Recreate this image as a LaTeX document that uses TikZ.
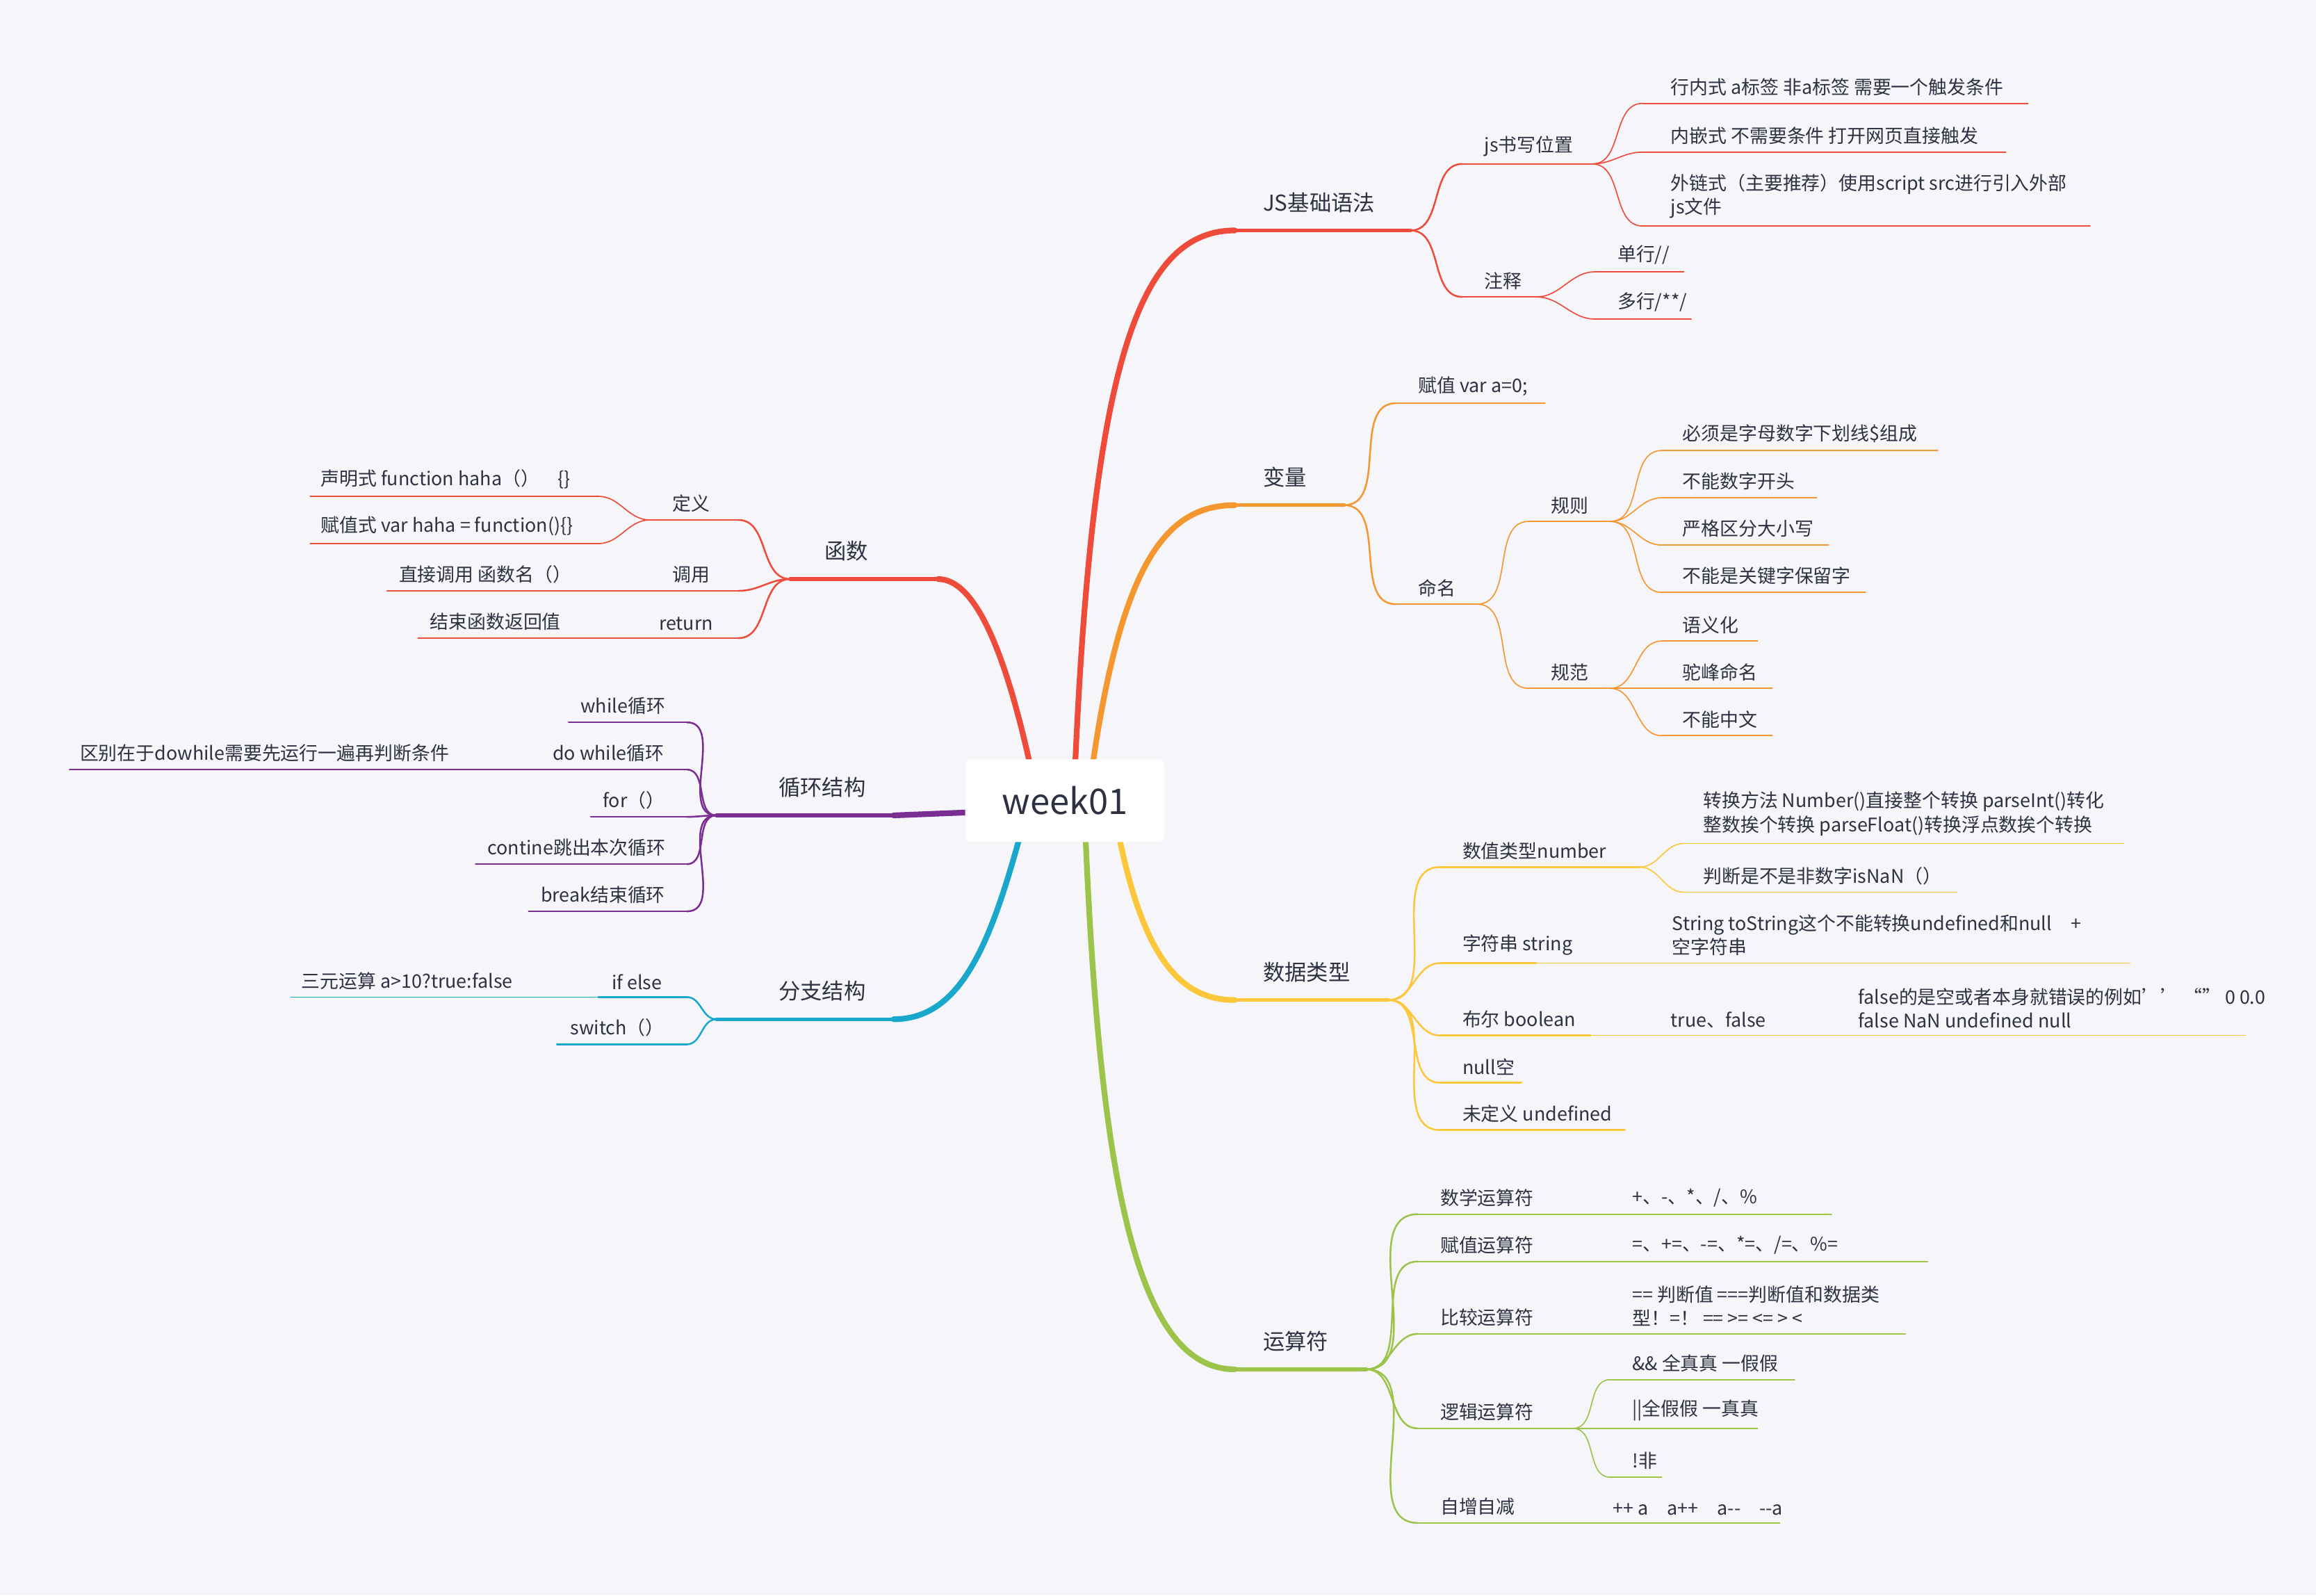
\documentclass[tikz,border=0pt]{standalone}
\usepackage{fontspec}
\setmainfont{Noto Sans CJK SC}
\definecolor{bg}{HTML}{F5F5FA}
\definecolor{txt}{HTML}{2D3142}
\definecolor{cred}{HTML}{EE4B3B}
\definecolor{corg}{HTML}{F5972F}
\definecolor{cyel}{HTML}{FCC73A}
\definecolor{cgrn}{HTML}{9DC44A}
\definecolor{cpur}{HTML}{7A2E92}
\definecolor{ccya}{HTML}{19A8CB}
\tikzset{
  lbl/.style={anchor=south west, inner sep=0pt, text=txt, align=left,
    font=\fontsize{18}{23}\selectfont},
  lone/.style={line width=3.6pt, line cap=round},
  ltwo/.style={line width=1.7pt, line cap=round},
  lthr/.style={line width=1.1pt, line cap=round},
  trunk/.style={line width=5.5pt, line cap=round},
}
% #1 line style, #2 name, #3 x start, #4 x end, #5 y, #6 text x, #7 text
\newcommand\br[7]{%
  \coordinate (#2-l) at (#3,#5);
  \coordinate (#2-r) at (#4,#5);
  \draw[#1] (#2-l) -- (#2-r);
  \node[lbl] (#2) at (#6,{#5-5}) {#7};}
% level one: label sits higher above its line
\newcommand\mainbr[7]{%
  \coordinate (#2-l) at (#3,#5);
  \coordinate (#2-r) at (#4,#5);
  \draw[#1] (#2-l) -- (#2-r);
  \node[lbl, font=\fontsize{21}{25}\selectfont] (#2) at (#6,{#5-12}) {#7};}
\newcommand\rt[3]{\draw[#1] (#2-r) to[out=0,in=180] (#3-l);}
\newcommand\lf[3]{\draw[#1] (#2-l) to[out=180,in=0] (#3-r);}
\begin{document}
\begin{tikzpicture}[x=0.05cm, y=-0.05cm]
\fill[bg] (0,0) rectangle (1568,1080);
\useasboundingbox (0,0) rectangle (1568,1080);

% trunks
\draw[trunk, cred] (728,516) .. controls (740,250) and (770,156) .. (836,156);
\draw[trunk, corg] (740,516) .. controls (760,380) and (790,342) .. (836,342);
\draw[trunk, cyel] (758,568) .. controls (775,650) and (800,677) .. (836,677);
\draw[trunk, cgrn] (735,568) .. controls (745,800) and (770,927) .. (836,927);
\draw[trunk, cred] (697,516) .. controls (680,440) and (660,392) .. (635,392);
\draw[trunk, cpur] (655,550) -- (605,552);
\draw[trunk, ccya] (690,568) .. controls (670,640) and (650,690) .. (605,690);

\node[fill=white, rounded corners=5pt, minimum width=6.75cm, minimum height=2.8cm,
  font=\fontsize{34}{40}\selectfont, text=txt] (root) at (721,542) {week01};

% JS基础语法
\mainbr{lone,cred}{js}{836}{955}{156}{855}{JS基础语法}
\br{ltwo,cred}{pos}{990}{1078}{111}{1005}{js书写位置}
\br{lthr,cred}{hn}{1112}{1373}{70}{1131}{行内式 a标签 非a标签 需要一个触发条件}
\br{lthr,cred}{nq}{1112}{1358}{103}{1131}{内嵌式 不需要条件 打开网页直接触发}
\br{lthr,cred}{wl}{1112}{1415}{153}{1131}{外链式（主要推荐）使用script src进行引入外部\\js文件}
\br{ltwo,cred}{zs}{990}{1040}{201}{1005}{注释}
\br{lthr,cred}{dh}{1080}{1140}{184}{1095}{单行//}
\br{lthr,cred}{duh}{1080}{1145}{216}{1095}{多行/**/}
\rt{ltwo,cred}{js}{pos} \rt{ltwo,cred}{js}{zs}
\rt{lthr,cred}{pos}{hn} \rt{lthr,cred}{pos}{nq} \rt{lthr,cred}{pos}{wl}
\rt{lthr,cred}{zs}{dh} \rt{lthr,cred}{zs}{duh}

% 变量
\mainbr{lone,corg}{bl}{836}{910}{342}{855}{变量}
\br{ltwo,corg}{fz}{945}{1046}{273}{960}{赋值 var a=0;}
\br{ltwo,corg}{mm}{945}{1000}{409}{960}{命名}
\br{lthr,corg}{gz}{1035}{1090}{353}{1050}{规则}
\br{lthr,corg}{ga}{1125}{1312}{305}{1139}{必须是字母数字下划线\$组成}
\br{lthr,corg}{gb}{1125}{1230}{337}{1139}{不能数字开头}
\br{lthr,corg}{gc}{1125}{1238}{369}{1139}{严格区分大小写}
\br{lthr,corg}{gd}{1125}{1263}{401}{1139}{不能是关键字保留字}
\br{lthr,corg}{gf}{1035}{1090}{466}{1050}{规范}
\br{lthr,corg}{fa}{1125}{1190}{434}{1139}{语义化}
\br{lthr,corg}{fb}{1125}{1200}{466}{1139}{驼峰命名}
\br{lthr,corg}{fc}{1125}{1200}{498}{1139}{不能中文}
\rt{ltwo,corg}{bl}{fz} \rt{ltwo,corg}{bl}{mm}
\rt{lthr,corg}{mm}{gz} \rt{lthr,corg}{mm}{gf}
\rt{lthr,corg}{gz}{ga} \rt{lthr,corg}{gz}{gb} \rt{lthr,corg}{gz}{gc} \rt{lthr,corg}{gz}{gd}
\rt{lthr,corg}{gf}{fa} \rt{lthr,corg}{gf}{fb} \rt{lthr,corg}{gf}{fc}

% 数据类型
\mainbr{lone,cyel}{lx}{836}{940}{677}{855}{数据类型}
\br{ltwo,cyel}{num}{975}{1110}{587}{990}{数值类型number}
\br{lthr,cyel}{zh}{1140}{1438}{571}{1153}{转换方法 Number()直接整个转换 parseInt()转化\\整数挨个转换 parseFloat()转换浮点数挨个转换}
\br{lthr,cyel}{nan}{1140}{1325}{604}{1153}{判断是不是非数字isNaN（）}
\br{ltwo,cyel}{str}{975}{1040}{652}{990}{字符串 string}
\br{lthr,cyel}{tos}{1040}{1442}{652}{1132}{String toString这个不能转换undefined和null　+\\空字符串}
\br{ltwo,cyel}{boo}{975}{1077}{701}{990}{布尔 boolean}
\br{lthr,cyel}{tf}{1077}{1213}{701}{1131}{true、false}
\br{lthr,cyel}{fl}{1213}{1520}{701}{1258}{false的是空或者本身就错误的例如\symbol{39}\symbol{39} “” 0 0.0\\false NaN undefined null}
\br{ltwo,cyel}{nul}{975}{1030}{733}{990}{null空}
\br{ltwo,cyel}{und}{975}{1100}{765}{990}{未定义 undefined}
\rt{ltwo,cyel}{lx}{num} \rt{ltwo,cyel}{lx}{str} \rt{ltwo,cyel}{lx}{boo}
\rt{ltwo,cyel}{lx}{nul} \rt{ltwo,cyel}{lx}{und}
\rt{lthr,cyel}{num}{zh} \rt{lthr,cyel}{num}{nan}

% 运算符
\mainbr{lone,cgrn}{ys}{836}{925}{927}{855}{运算符}
\br{ltwo,cgrn}{sx}{960}{1090}{822}{975}{数学运算符}
\br{lthr,cgrn}{sxa}{1090}{1240}{822}{1105}{+、-、*、/、\%}
\br{ltwo,cgrn}{fy}{960}{1090}{854}{975}{赋值运算符}
\br{lthr,cgrn}{fya}{1090}{1305}{854}{1105}{=、+=、-=、*=、/=、\%=}
\br{ltwo,cgrn}{bj}{960}{1090}{903}{975}{比较运算符}
\br{lthr,cgrn}{bja}{1090}{1290}{903}{1105}{== 判断值 ===判断值和数据类\\型！=！ == >= <=  > <}
\br{ltwo,cgrn}{lj}{960}{1065}{967}{975}{逻辑运算符}
\br{lthr,cgrn}{lja}{1090}{1215}{934}{1105}{\&\& 全真真 一假假}
\br{lthr,cgrn}{ljb}{1065}{1190}{967}{1105}{||全假假 一真真}
\br{lthr,cgrn}{ljc}{1090}{1125}{1000}{1105}{!非}
\br{ltwo,cgrn}{zz}{960}{1080}{1031}{975}{自增自减}
\br{lthr,cgrn}{zza}{1080}{1205}{1031}{1092}{++ a　a++　a{-}{-}　{-}{-}a}
\rt{ltwo,cgrn}{ys}{sx} \rt{ltwo,cgrn}{ys}{fy} \rt{ltwo,cgrn}{ys}{bj}
\rt{ltwo,cgrn}{ys}{lj} \rt{ltwo,cgrn}{ys}{zz}
\rt{lthr,cgrn}{lj}{lja} \rt{lthr,cgrn}{lj}{ljc}

% 函数
\mainbr{lone,cred}{hs}{535}{635}{392}{558}{函数}
\br{ltwo,cred}{dy}{440}{500}{352}{455}{定义}
\br{lthr,cred}{sm}{210}{405}{336}{217}{声明式 function haha（）　\{\}}
\br{lthr,cred}{fzs}{210}{405}{368}{217}{赋值式 var haha = function()\{\}}
\br{ltwo,cred}{dd}{440}{500}{400}{455}{调用}
\br{lthr,cred}{zj}{262}{440}{400}{270}{直接调用 函数名（）}
\br{ltwo,cred}{rtn}{440}{500}{432}{446}{return}
\br{lthr,cred}{js2}{283}{440}{432}{291}{结束函数返回值}
\lf{ltwo,cred}{hs}{dy} \lf{ltwo,cred}{hs}{dd} \lf{ltwo,cred}{hs}{rtn}
\lf{lthr,cred}{dy}{sm} \lf{lthr,cred}{dy}{fzs}

% 循环结构
\mainbr{lone,cpur}{xh}{485}{605}{552}{527}{循环结构}
\br{ltwo,cpur}{wh}{385}{465}{489}{393}{while循环}
\br{ltwo,cpur}{dw}{365}{465}{521}{374}{do while循环}
\br{lthr,cpur}{qb}{47}{365}{521}{54}{区别在于dowhile需要先运行一遍再判断条件}
\br{ltwo,cpur}{fr}{400}{465}{553}{408}{for（）}
\br{ltwo,cpur}{ct}{322}{465}{585}{330}{contine跳出本次循环}
\br{ltwo,cpur}{bk}{358}{465}{617}{366}{break结束循环}
\lf{ltwo,cpur}{xh}{wh} \lf{ltwo,cpur}{xh}{dw} \lf{ltwo,cpur}{xh}{fr}
\lf{ltwo,cpur}{xh}{ct} \lf{ltwo,cpur}{xh}{bk}

% 分支结构
\mainbr{lone,ccya}{fzj}{485}{605}{690}{527}{分支结构}
\br{ltwo,ccya}{ie}{405}{465}{675}{414}{if else}
\br{lthr,ccya}{sy}{197}{405}{675}{204}{三元运算 a>10?true:false}
\br{ltwo,ccya}{sw}{377}{465}{707}{386}{switch（）}
\lf{ltwo,ccya}{fzj}{ie} \lf{ltwo,ccya}{fzj}{sw}
\end{tikzpicture}
\end{document}
